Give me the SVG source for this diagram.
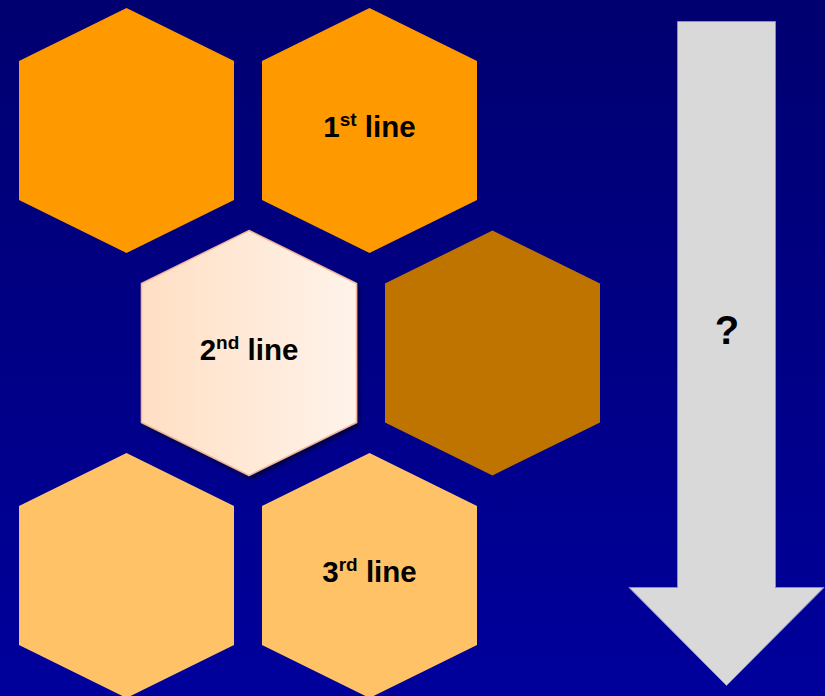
<svg xmlns="http://www.w3.org/2000/svg" width="825" height="696" viewBox="0 0 825 696">
<defs>
<linearGradient id="bg" x1="0" y1="0" x2="0" y2="1">
<stop offset="0" stop-color="#000070"/>
<stop offset="1" stop-color="#00009C"/>
</linearGradient>
<linearGradient id="hl" x1="0" y1="0" x2="1" y2="0">
<stop offset="0" stop-color="#FFDFC4"/>
<stop offset="1" stop-color="#FFF3EA"/>
</linearGradient>
<filter id="sh" x="-10%" y="-10%" width="130%" height="130%">
<feDropShadow dx="2" dy="3" stdDeviation="2" flood-color="#000000" flood-opacity="0.55"/>
</filter>
<polygon id="hex" points="107.5,0 215,53 215,192 107.5,245 0,192 0,53"/>
</defs>
<style>
text{font-family:"Liberation Sans",Arial,sans-serif;font-weight:bold;fill:#000;text-anchor:middle}
.lbl{font-size:29.5px}
.sup{font-size:19px}
</style>
<rect width="825" height="696" fill="url(#bg)"/>
<g id="hex1"><use href="#hex" x="19" y="8" fill="#FF9900"/></g>
<g id="hex2"><use href="#hex" x="262" y="8" fill="#FF9900"/>
<text class="lbl" x="369.5" y="137">1<tspan class="sup" dy="-11">st</tspan><tspan dy="11"> line</tspan></text></g>
<g id="hex3"><use href="#hex" x="141.5" y="230.5" fill="url(#hl)" stroke="#F2B79A" stroke-width="1.5" filter="url(#sh)"/>
<text class="lbl" x="249" y="360">2<tspan class="sup" dy="-11">nd</tspan><tspan dy="11"> line</tspan></text></g>
<g id="hex4"><use href="#hex" x="385" y="230.5" fill="#C07400"/></g>
<g id="hex5"><use href="#hex" x="19" y="453" fill="#FFC266"/></g>
<g id="hex6"><use href="#hex" x="262" y="453" fill="#FFC266"/>
<text class="lbl" x="369.5" y="582">3<tspan class="sup" dy="-11">rd</tspan><tspan dy="11"> line</tspan></text></g>
<g id="arrow">
<polygon points="677.5,21.5 775.5,21.5 775.5,587.5 824,587.5 726.5,685.5 629,587.5 677.5,587.5" fill="#D9D9D9" stroke="#8A8AC8" stroke-width="1"/>
<text x="727" y="344" style="font-size:40px">?</text>
</g>
</svg>
